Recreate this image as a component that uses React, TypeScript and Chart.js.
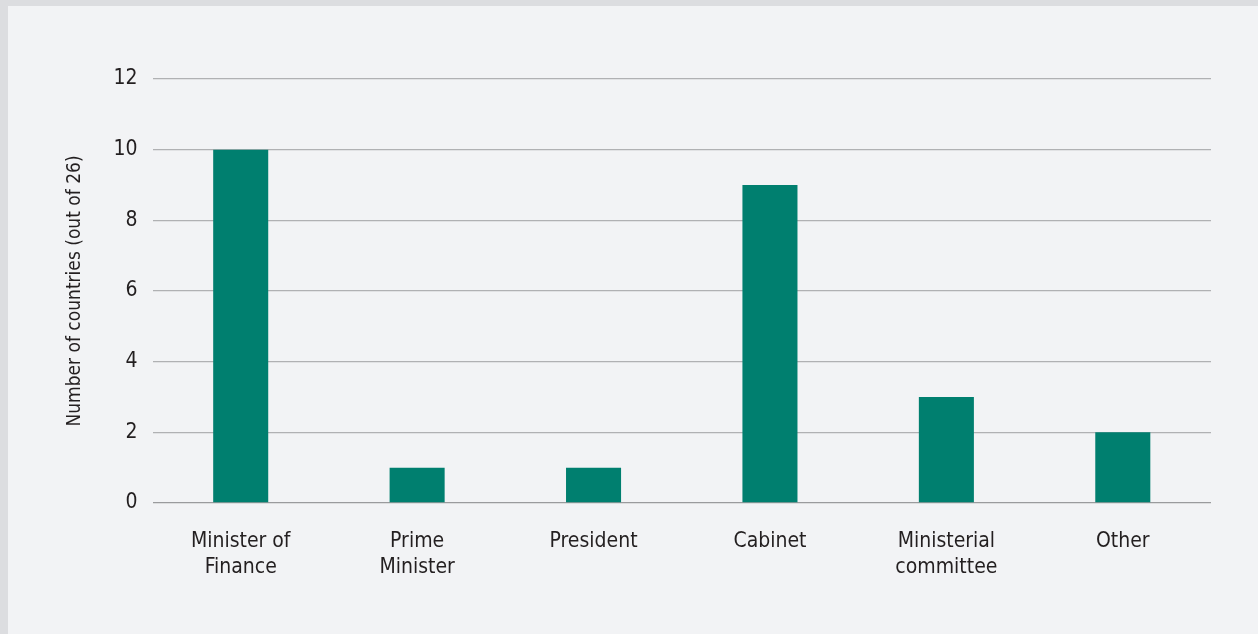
import React, { useEffect, useRef } from "react";
import { Chart, registerables } from "chart.js";

Chart.register(...registerables);

const categories: (string | string[])[] = [
  ["Minister of", "Finance"],
  ["Prime", "Minister"],
  "President",
  "Cabinet",
  ["Ministerial", "committee"],
  "Other",
];
const counts: number[] = [10, 1, 1, 9, 3, 2];
const yTitle = "Number of countries (out of 26)";
const yMax = 12;
const yStep = 2;

const FONT = "'Liberation Sans Narrow', 'DejaVu Sans Condensed', 'Arial Narrow', sans-serif";

export default function App() {
  const ref = useRef<HTMLCanvasElement>(null);
  useEffect(() => {
    if (!ref.current) return;
    const chart = new Chart(ref.current, {
      type: "bar",
      data: {
        labels: categories,
        datasets: [
          {
            data: counts,
            backgroundColor: "#007F6F",
            borderWidth: 0,
            barPercentage: 1,
            categoryPercentage: 0.312,
          },
        ],
      },
      options: {
        responsive: false,
        animation: false,
        layout: { padding: { left: 0, right: 47, top: 79, bottom: 0 } },
        plugins: { legend: { display: false }, tooltip: { enabled: false } },
        scales: {
          x: {
            grid: { display: false, drawTicks: false },
            border: { display: false },
            ticks: {
              color: "#231f20",
              font: { family: FONT, size: 21, lineHeight: 1.25 },
              padding: 25,
              maxRotation: 0,
              autoSkip: false,
            },
            afterFit: (s: any) => {
              s.height = 131;
            },
          },
          y: {
            min: 0,
            max: yMax,
            ticks: {
              stepSize: yStep,
              color: "#231f20",
              font: { family: FONT, size: 21 },
              padding: 15,
            },
            grid: {
              color: (ctx: any) => (ctx.tick && ctx.tick.value === 0 ? "#9a9b9d" : "#b0b1b3"),
              lineWidth: 1.3,
              drawTicks: false,
            },
            border: { display: false },
            title: {
              display: true,
              text: yTitle,
              color: "#231f20",
              font: { family: FONT, size: 19 },
              padding: { top: 64, bottom: 0 },
            },
            afterFit: (s: any) => {
              s.width = 152.5;
            },
          },
        },
      },
    });
    return () => chart.destroy();
  }, []);

  return (
    <div style={{ position: "fixed", left: 0, top: 0, width: 1258, height: 634, background: "#dcdde0" }}>
      <div style={{ position: "absolute", left: 8, top: 6, right: 0, bottom: 0, background: "#f2f3f5" }} />
      <canvas ref={ref} width={1258} height={634} style={{ position: "absolute", left: 0, top: 0, width: 1258, height: 634 }} />
    </div>
  );
}
